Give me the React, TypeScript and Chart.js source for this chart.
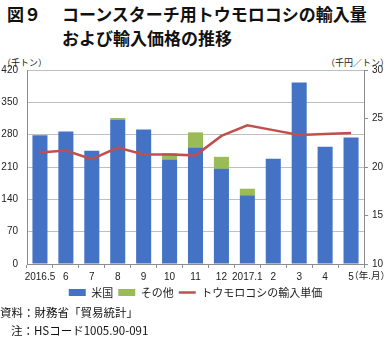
import React, { useEffect, useRef } from "react";
import { Chart, registerables } from "chart.js";

Chart.register(...registerables);

const categories = ["2016.5", "6", "7", "8", "9", "10", "11", "12", "2017.1", "2", "3", "4", "5"];
const usValues = [279, 287, 245, 313, 291, 226, 252, 206, 149, 228, 393, 254, 274];
const otherValues = [0, 0, 0, 3, 0, 14, 33, 26, 14, 0, 0, 0, 0];
const unitPrice = [21.5, 21.7, 20.8, 22.0, 21.3, 21.3, 21.2, 23.2, 24.3, 23.8, 23.3, 23.4, 23.5];
const leftTicks = [0, 70, 140, 210, 280, 350, 420];
const rightTicks = [10, 15, 20, 25, 30];

const FONT = "'Liberation Sans', 'Noto Sans CJK JP', sans-serif";
const JP = "'Noto Sans CJK JP', sans-serif";

export default function App() {
  const ref = useRef<HTMLCanvasElement | null>(null);

  useEffect(() => {
    document.body.style.margin = "0";
    const canvas = ref.current!;
    const chart = new Chart(canvas, {
      type: "bar",
      data: {
        labels: categories,
        datasets: [
          {
            label: "米国",
            data: usValues,
            backgroundColor: "#4472C4",
            yAxisID: "y",
            stack: "s",
            order: 1,
            pointStyle: "rect",
          } as any,
          {
            label: "その他",
            data: otherValues,
            backgroundColor: "#9BBB59",
            yAxisID: "y",
            stack: "s",
            order: 1,
            pointStyle: "rect",
          } as any,
          {
            type: "line",
            label: "トウモロコシの輸入単価",
            data: unitPrice,
            borderColor: "#C0504D",
            backgroundColor: "#C0504D",
            borderWidth: 2.5,
            pointRadius: 0,
            yAxisID: "y1",
            order: 0,
            tension: 0,
            pointStyle: "line",
          } as any,
        ],
      },
      options: {
        responsive: false,
        animation: false,
        devicePixelRatio: 1,
        layout: { padding: { top: 15, left: 0, right: 0, bottom: 0 } },
        datasets: {
          bar: { barPercentage: 0.58, categoryPercentage: 1 },
        },
        plugins: {
          tooltip: { enabled: false },
          legend: {
            position: "bottom",
            labels: {
              usePointStyle: true,
              pointStyleWidth: 17,
              boxHeight: 7,
              padding: 5,
              color: "#222",
              font: { family: JP, size: 11 },
              sort: (a: any, b: any) => a.datasetIndex - b.datasetIndex,
            },
          },
        },
        scales: {
          x: {
            stacked: true,
            offset: true,
            grid: { offset: true, drawOnChartArea: false, tickLength: 4, color: "#8c8c8c" },
            border: { display: true, color: "#8c8c8c" },
            ticks: { color: "#222", font: { family: FONT, size: 10 }, padding: 3, maxRotation: 0, autoSkip: false },
            afterFit: (s: any) => {
              s.height = 18;
              s.paddingLeft = 0;
              s.paddingRight = 0;
            },
          },
          y: {
            position: "left",
            stacked: true,
            min: 0,
            max: 420,
            afterBuildTicks: (s: any) => {
              s.ticks = leftTicks.map((v) => ({ value: v }));
            },
            grid: { color: "#bfbfbf", drawTicks: false },
            border: { display: true, color: "#8c8c8c" },
            ticks: { color: "#222", font: { family: FONT, size: 10 }, padding: 9 },
            afterFit: (s: any) => {
              s.width = 27;
              s.paddingTop = 0;
              s.paddingBottom = 0;
            },
          },
          y1: {
            position: "right",
            min: 10,
            max: 30,
            afterBuildTicks: (s: any) => {
              s.ticks = rightTicks.map((v) => ({ value: v }));
            },
            grid: { drawOnChartArea: false, tickLength: 4, color: "#8c8c8c" },
            border: { display: true, color: "#8c8c8c" },
            ticks: { color: "#222", font: { family: FONT, size: 10 }, padding: 4 },
            afterFit: (s: any) => {
              s.width = 27;
              s.paddingTop = 0;
              s.paddingBottom = 0;
            },
          },
        },
      },
    });
    return () => chart.destroy();
  }, []);

  return (
    <div style={{ position: "relative", width: 391, height: 337, overflow: "hidden", fontFamily: JP, color: "#111" }}>
      <div style={{ position: "absolute", left: 7, top: 2, fontSize: 17, fontWeight: "bold", lineHeight: "24px", whiteSpace: "nowrap" }}>
        <div>
          <span style={{ display: "inline-block", width: 55 }}>図９</span>コーンスターチ用トウモロコシの輸入量
        </div>
        <div style={{ paddingLeft: 55 }}>および輸入価格の推移</div>
      </div>
      <div style={{ position: "absolute", left: 2, top: 56, fontSize: 9, color: "#222", whiteSpace: "nowrap" }}>（千トン）</div>
      <div style={{ position: "absolute", right: 2, top: 56, fontSize: 9, color: "#222", whiteSpace: "nowrap" }}>（千円／トン）</div>
      <canvas ref={ref} width={391} height={253} style={{ position: "absolute", left: 0, top: 55, width: 391, height: 253 }} />
      <div style={{ position: "absolute", right: 1, top: 268, fontSize: 9.5, color: "#222", whiteSpace: "nowrap" }}>（年.月）</div>
      <div style={{ position: "absolute", left: 0, top: 303, fontSize: 11.5, lineHeight: "18px", color: "#111", whiteSpace: "nowrap" }}>
        <div>資料：財務省「貿易統計」</div>
        <div style={{ paddingLeft: 11 }}>注：HSコード1005.90-091</div>
      </div>
    </div>
  );
}
